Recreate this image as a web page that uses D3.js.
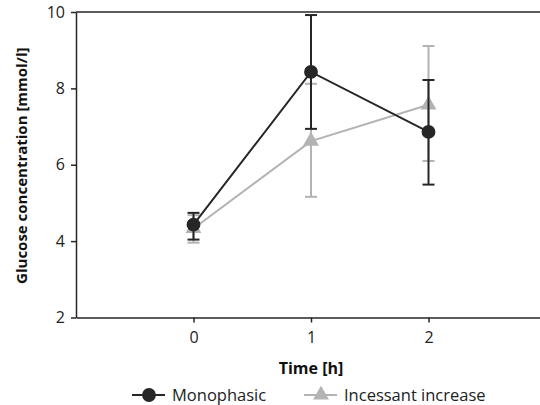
<!DOCTYPE html>
<html>
<head>
<meta charset="utf-8">
<script src="https://cdn.jsdelivr.net/npm/d3@7"></script>
<style>
  body { margin: 0; background: #fff; }
  svg { font-family: 'Open Sans', sans-serif; }
</style>
</head>
<body>
<div id="chart-container"></div>
<script>
// Data
const times = [0, 1, 2];
const monoMean = [4.43, 8.43, 6.86];
const monoLow = [4.04, 6.94, 5.48];
const monoHigh = [4.74, 9.92, 8.22];
const incMean = [4.33, 6.62, 7.57];
const incLow = [3.96, 5.16, 6.1];
const incHigh = [4.68, 8.12, 9.11];
const xTicks = [0, 1, 2];
const yTicks = [2, 4, 6, 8, 10];
const seriesNames = ['Monophasic', 'Incessant increase'];

window.onload = () => {
  const width = 540;
  const height = 405;
  const margin = { left: 76, top: 12, right: -6, bottom: 87.5 };

  const svg = d3.select('div#chart-container')
    .append('svg')
    .attr('width', width)
    .attr('height', height);

  const x = d3.scaleLinear().domain([-1, 3]).range([margin.left, width - margin.right]);
  const y = d3.scaleLinear().domain([2, 10]).range([height - margin.bottom, margin.top]);

  const black = '#262626';
  const gray = '#b3b3b3';

  // frame: top line, axes
  svg.append('line')
    .attr('x1', margin.left).attr('x2', width)
    .attr('y1', y(10)).attr('y2', y(10))
    .attr('stroke', black).attr('stroke-width', 1.5);

  const xAxis = svg.append('g')
    .attr('transform', `translate(0, ${y(2)})`)
    .call(d3.axisBottom(x).tickValues(xTicks).tickFormat(d3.format('d'))
      .tickSize(5).tickPadding(9).tickSizeOuter(0));
  const yAxis = svg.append('g')
    .attr('transform', `translate(${margin.left}, 0)`)
    .call(d3.axisLeft(y).tickValues(yTicks).tickFormat(d3.format('d'))
      .tickSize(5).tickPadding(6).tickSizeOuter(0));

  [xAxis, yAxis].forEach(g => {
    g.select('.domain').attr('stroke', black).attr('stroke-width', 1.5);
    g.selectAll('.tick line').attr('stroke', black).attr('stroke-width', 1.5);
    g.selectAll('.tick text')
      .attr('fill', '#222')
      .style('font-size', '16px')
      .style('font-family', "'Open Sans', sans-serif");
  });

  svg.append('text')
    .attr('x', x(1)).attr('y', 374)
    .attr('text-anchor', 'middle')
    .style('font-size', '16px').style('font-weight', 'bold')
    .attr('fill', '#111')
    .text('Time [h]');

  svg.append('text')
    .attr('transform', `translate(27, ${y(6) + 1}) rotate(-90)`)
    .attr('text-anchor', 'middle')
    .style('font-size', '15px').style('font-weight', 'bold')
    .attr('fill', '#111')
    .text('Glucose concentration [mmol/l]');

  const line = d3.line().x(d => x(d.t)).y(d => y(d.v));
  const capW = 6;

  function drawSeries(mean, low, high, color, marker) {
    const pts = times.map((t, i) => ({ t, v: mean[i], lo: low[i], hi: high[i] }));
    const g = svg.append('g');
    const eb = g.selectAll('g.err').data(pts).enter().append('g').attr('class', 'err');
    eb.append('line')
      .attr('x1', d => x(d.t)).attr('x2', d => x(d.t))
      .attr('y1', d => y(d.lo)).attr('y2', d => y(d.hi))
      .attr('stroke', color).attr('stroke-width', 2);
    eb.append('line')
      .attr('x1', d => x(d.t) - capW).attr('x2', d => x(d.t) + capW)
      .attr('y1', d => y(d.lo)).attr('y2', d => y(d.lo))
      .attr('stroke', color).attr('stroke-width', 2);
    eb.append('line')
      .attr('x1', d => x(d.t) - capW).attr('x2', d => x(d.t) + capW)
      .attr('y1', d => y(d.hi)).attr('y2', d => y(d.hi))
      .attr('stroke', color).attr('stroke-width', 2);
    g.append('path').datum(pts)
      .attr('d', line)
      .attr('fill', 'none').attr('stroke', color).attr('stroke-width', 2);
    g.selectAll('path.mark').data(pts).enter().append('path')
      .attr('class', 'mark')
      .attr('transform', d => `translate(${x(d.t)}, ${y(d.v)})`)
      .attr('d', marker)
      .attr('fill', color);
  }

  const circle = d3.symbol().type(d3.symbolCircle).size(150)();
  const tri = d3.symbol().type(d3.symbolTriangle).size(110)();

  drawSeries(incMean, incLow, incHigh, gray, tri);
  drawSeries(monoMean, monoLow, monoHigh, black, circle);

  // legend
  const legend = [
    { name: seriesNames[0], color: black, marker: circle, x0: 132 },
    { name: seriesNames[1], color: gray, marker: tri, x0: 304 }
  ];
  const ly = 395;
  const lg = svg.selectAll('g.legend').data(legend).enter().append('g').attr('class', 'legend');
  lg.append('line')
    .attr('x1', d => d.x0).attr('x2', d => d.x0 + 33)
    .attr('y1', ly).attr('y2', ly)
    .attr('stroke', d => d.color).attr('stroke-width', 2);
  lg.append('path')
    .attr('transform', d => `translate(${d.x0 + 17}, ${ly})`)
    .attr('d', d => d.marker)
    .attr('fill', d => d.color);
  lg.append('text')
    .attr('x', d => d.x0 + 40).attr('y', ly)
    .attr('dy', '0.35em')
    .style('font-size', '16.5px')
    .attr('fill', '#222')
    .text(d => d.name);
};
</script>
</body>
</html>
